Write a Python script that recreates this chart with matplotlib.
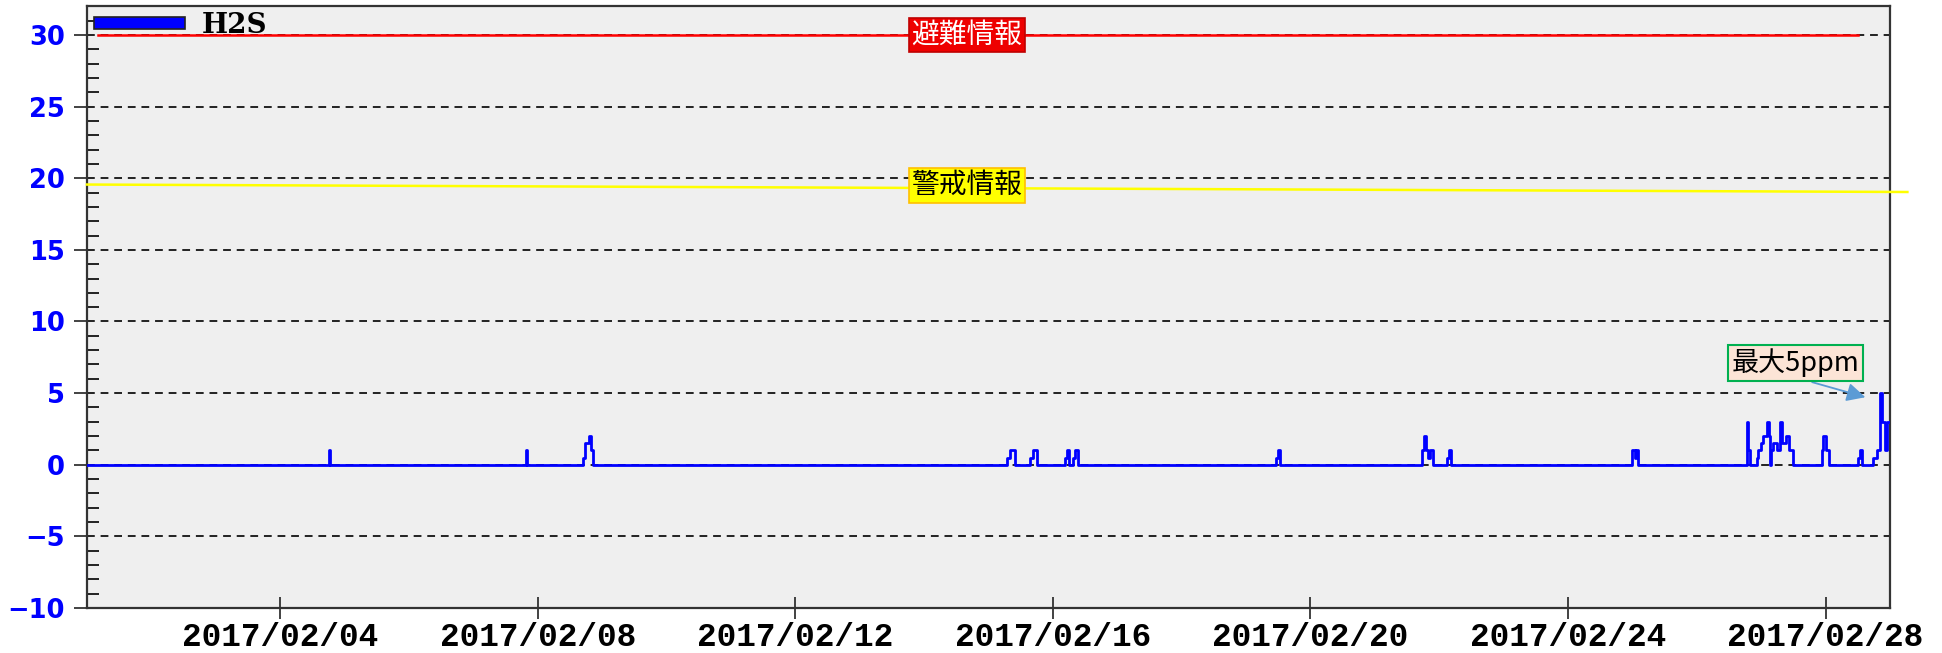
# H2S concentration chart, Feb 2017
import matplotlib
matplotlib.use('Agg')
import pandas as pd
import matplotlib.pyplot as plt
import matplotlib.dates as mdates
from matplotlib.patches import Patch
from matplotlib.ticker import MultipleLocator

# data: change points of the H2S series (value holds until the next time)
h2s_times = [
    '2017-02-01 00:00',
    '2017-02-04 18:14', '2017-02-04 18:35',
    '2017-02-07 19:40', '2017-02-07 20:00',
    '2017-02-08 16:50', '2017-02-08 17:45', '2017-02-08 19:00', '2017-02-08 19:40', '2017-02-08 20:40',
    '2017-02-15 07:00', '2017-02-15 08:10', '2017-02-15 09:50',
    '2017-02-15 15:35', '2017-02-15 16:35', '2017-02-15 18:00',
    '2017-02-16 04:35', '2017-02-16 05:15', '2017-02-16 06:00',
    '2017-02-16 07:25', '2017-02-16 08:25', '2017-02-16 09:20',
    '2017-02-19 11:15', '2017-02-19 11:45', '2017-02-19 12:30',
    '2017-02-21 17:30', '2017-02-21 18:30', '2017-02-21 19:10', '2017-02-21 20:00', '2017-02-21 20:40', '2017-02-21 21:35',
    '2017-02-22 02:50', '2017-02-22 03:35', '2017-02-22 04:20',
    '2017-02-24 23:45', '2017-02-25 00:50', '2017-02-25 01:20', '2017-02-25 02:10',
    '2017-02-26 18:45', '2017-02-26 19:05', '2017-02-26 19:55',
    '2017-02-26 22:20', '2017-02-26 22:40', '2017-02-27 00:00', '2017-02-27 00:45', '2017-02-27 02:10',
    '2017-02-27 02:50', '2017-02-27 03:15', '2017-02-27 03:45', '2017-02-27 04:35', '2017-02-27 05:45',
    '2017-02-27 07:00', '2017-02-27 07:40', '2017-02-27 09:05', '2017-02-27 10:20', '2017-02-27 12:00',
    '2017-02-27 22:35', '2017-02-27 23:00', '2017-02-28 00:15', '2017-02-28 01:25',
    '2017-02-28 12:15', '2017-02-28 12:45', '2017-02-28 13:25',
    '2017-02-28 17:45', '2017-02-28 19:10', '2017-02-28 20:25', '2017-02-28 20:55', '2017-02-28 22:20',
    '2017-02-28 22:50', '2017-03-01 00:00',
]
h2s_values = [
    0,
    1, 0,
    1, 0,
    0.5, 1.5, 2, 1, 0,
    0.5, 1, 0,
    0.5, 1, 0,
    0.5, 1, 0,
    0.5, 1, 0,
    0.5, 1, 0,
    1, 2, 1, 0.5, 1, 0,
    0.5, 1, 0,
    1, 0.5, 1, 0,
    3, 1, 0,
    0.5, 1, 1.5, 2, 3,
    2, 0, 1, 1.5, 1,
    3, 1.5, 2, 1, 0,
    1, 2, 1, 0,
    0.5, 1, 0,
    0.5, 1, 5, 3, 1,
    3, 3,
]

# alert lines
evac_level = [30, 30]
evac_times = ['2017-02-01 04:05', '2017-02-28 12:00']
warn_level = [19.56, 19.04]
warn_times = ['2017-02-01 00:00', '2017-03-01 06:30']

y_ticks = [-10, -5, 0, 5, 10, 15, 20, 25, 30]
x_ticks = ['2017-02-04', '2017-02-08', '2017-02-12', '2017-02-16',
           '2017-02-20', '2017-02-24', '2017-02-28']

t = pd.to_datetime(h2s_times)

fig = plt.figure(figsize=(19.42, 6.53), dpi=100)
ax = fig.add_axes([0.0448, 0.0689, 0.9284, 0.9214])
ax.set_facecolor('#efefef')

# grid
ax.set_axisbelow(True)
ax.yaxis.grid(True, which='major', linestyle=(0, (4, 3)), color='#222222', lw=1.4)

# data line
ax.plot(t, h2s_values, drawstyle='steps-post', color='#0000ff', lw=2.0, zorder=3)

# alert lines
ax.plot(pd.to_datetime(evac_times), evac_level, color='#ff0000', lw=1.8, zorder=4)
ax.plot(pd.to_datetime(warn_times), warn_level, color='#ffff00', lw=1.8, zorder=4, clip_on=False)

cjk = ['Noto Sans CJK JP', 'DejaVu Sans']
ax.text(pd.Timestamp('2017-02-14 16:00'), 30, '避難情報', family=cjk, fontsize=20,
        color='white', ha='center', va='center', zorder=5,
        bbox=dict(boxstyle='square,pad=0.08', fc='#ee0000', ec='#c00000', lw=1.2))
ax.text(pd.Timestamp('2017-02-14 16:00'), 19.5, '警戒情報', family=cjk, fontsize=20,
        color='black', ha='center', va='center', zorder=5,
        bbox=dict(boxstyle='square,pad=0.08', fc='#ffff00', ec='#ffc000', lw=1.2))
ax.annotate('最大5ppm', xy=(pd.Timestamp('2017-02-28 15:50'), 4.66),
            xytext=(pd.Timestamp('2017-02-27 12:45'), 7.1), family=cjk, fontsize=19.5,
            ha='center', va='center', zorder=6,
            bbox=dict(boxstyle='square,pad=0.12', fc='#fce4d6', ec='#00b050', lw=1.5),
            arrowprops=dict(arrowstyle='-|>', color='#5b9bd5', lw=1.3, mutation_scale=28,
                            relpos=(0.5, 0.0)))

# axes
ax.set_xlim(pd.Timestamp('2017-02-01'), pd.Timestamp('2017-03-01'))
ax.set_ylim(-10, 32)
ax.set_yticks(y_ticks)
ax.yaxis.set_minor_locator(MultipleLocator(1))
ax.set_xticks(pd.to_datetime(x_ticks))
ax.xaxis.set_major_formatter(mdates.DateFormatter('%Y/%m/%d'))

ax.tick_params(axis='y', which='major', direction='out', length=9.5, width=1.2,
               pad=6.5, labelsize=18.5, labelcolor='#0000ff', color='#222222')
ax.tick_params(axis='y', which='minor', direction='in', length=8.5, width=1.4, color='#222222')
ax.tick_params(axis='x', which='major', direction='inout', length=16, width=1.2,
               pad=2, labelsize=23.5, color='#222222')
for lab in ax.get_yticklabels():
    lab.set_fontweight('bold')
for lab in ax.get_xticklabels():
    lab.set_family('Liberation Mono')
    lab.set_fontweight('bold')

for s in ax.spines.values():
    s.set_color('#333333')
    s.set_linewidth(1.6)

# legend
leg = ax.legend(handles=[Patch(facecolor='#0000ff', edgecolor='#222222', lw=1.2, label='H2S')],
                loc='upper left', bbox_to_anchor=(0.003, 0.993), frameon=False,
                handlelength=3.3, handleheight=0.28, handletextpad=0.6,
                borderaxespad=0.0, borderpad=0.05,
                prop={'family': 'DejaVu Serif', 'weight': 'bold', 'size': 20})

fig.savefig('out.png', dpi=100)
